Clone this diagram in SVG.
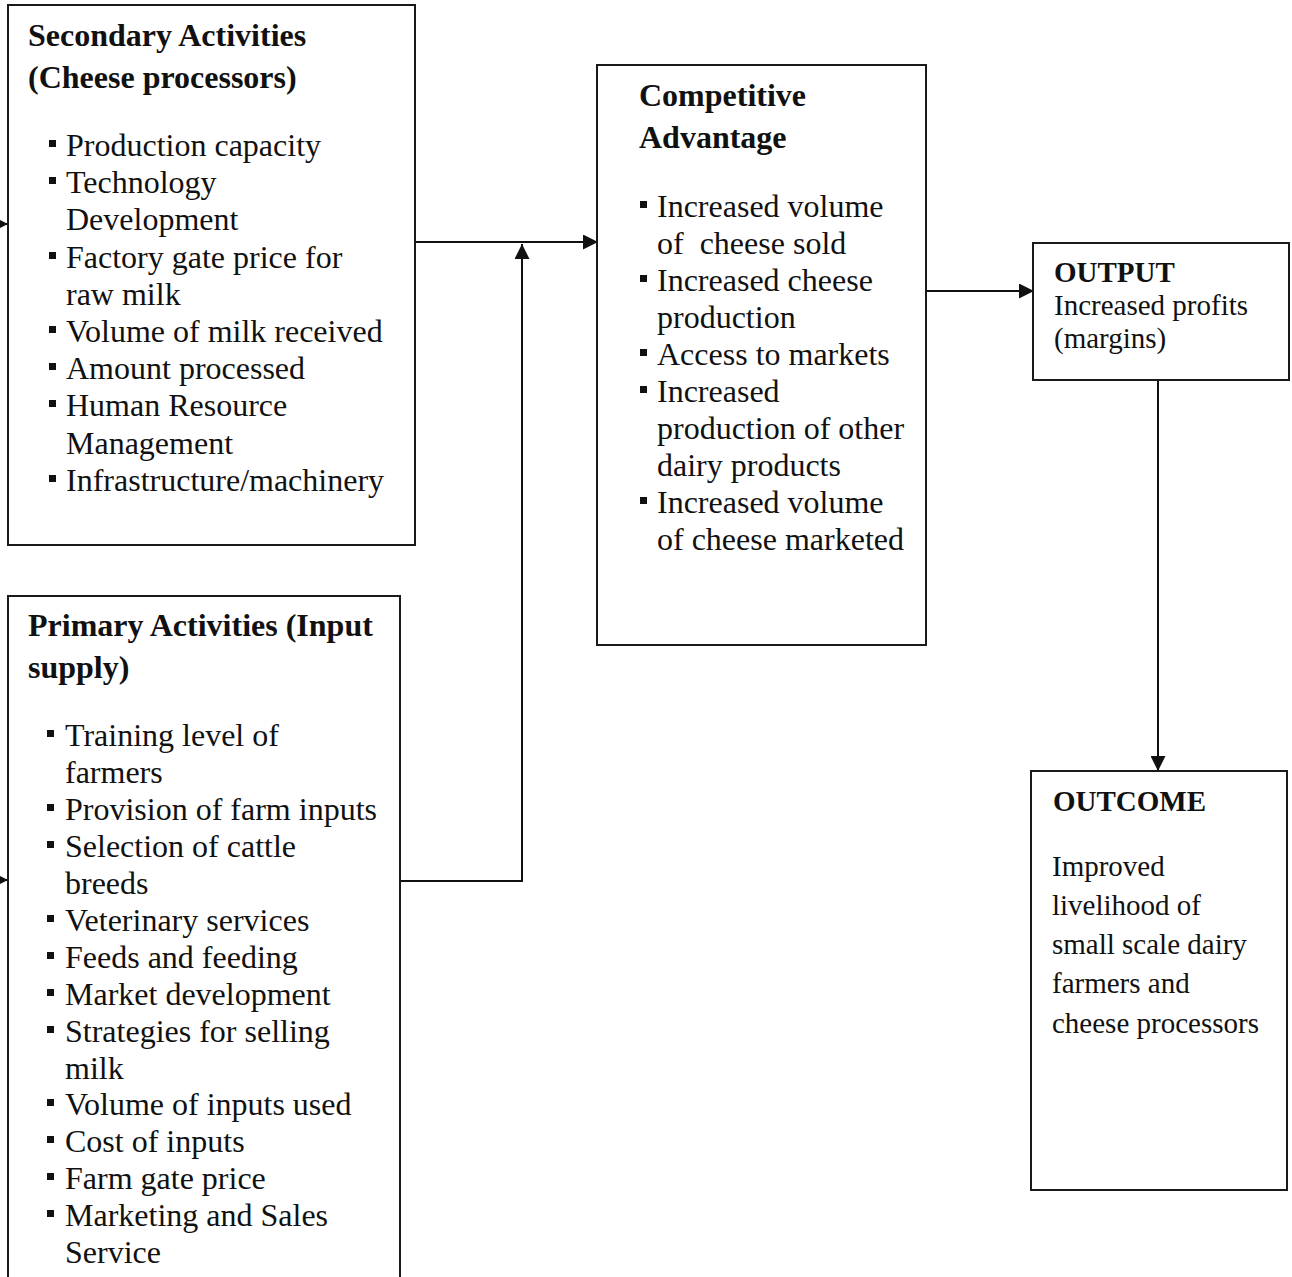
<svg xmlns="http://www.w3.org/2000/svg" width="1292" height="1277" viewBox="0 0 1292 1277">
<defs>
<style>
.box{fill:#fff;stroke:#1a1a1a;stroke-width:2}
.ln{fill:none;stroke:#111;stroke-width:2}
.t{font-family:"Liberation Serif","Times New Roman",serif;font-size:32px;fill:#111}
.h{font-family:"Liberation Serif","Times New Roman",serif;font-size:32px;font-weight:bold;fill:#111}
.s{font-family:"Liberation Serif","Times New Roman",serif;font-size:29px;fill:#111}
.sh{font-family:"Liberation Serif","Times New Roman",serif;font-size:29px;font-weight:bold;fill:#111}
.b{fill:#111}
</style>
<marker id="ahb" viewBox="0 0 10 10" refX="10" refY="5" markerWidth="15" markerHeight="15" markerUnits="userSpaceOnUse" orient="auto">
<path d="M0,0 L10,5 L0,10 Z" fill="#111"/>
</marker>
</defs>
<rect width="1292" height="1277" fill="#fff"/>

<g id="connectors">
<line class="ln" x1="-20" y1="224" x2="8" y2="224" marker-end="url(#ahb)"/>
<line class="ln" x1="-20" y1="880" x2="8" y2="880" marker-end="url(#ahb)"/>
<line class="ln" x1="415" y1="242" x2="598" y2="242" marker-end="url(#ahb)"/>
<polyline class="ln" points="400,881 522,881 522,244" marker-end="url(#ahb)"/>
<line class="ln" x1="926" y1="291" x2="1034" y2="291" marker-end="url(#ahb)"/>
<line class="ln" x1="1158" y1="380" x2="1158" y2="771" marker-end="url(#ahb)"/>
</g>

<g id="secondary">
<rect class="box" x="8" y="5" width="407" height="540"/>
<text class="h" x="28" y="46">Secondary Activities</text>
<text class="h" x="28" y="88">(Cheese processors)</text>
<rect class="b" x="49" y="140" width="7" height="7"/>
<text class="t" x="66" y="156">Production capacity</text>
<rect class="b" x="49" y="177" width="7" height="7"/>
<text class="t" x="66" y="193">Technology</text>
<text class="t" x="66" y="230">Development</text>
<rect class="b" x="49" y="252" width="7" height="7"/>
<text class="t" x="66" y="268">Factory gate price for</text>
<text class="t" x="66" y="305">raw milk</text>
<rect class="b" x="49" y="326" width="7" height="7"/>
<text class="t" x="66" y="342">Volume of milk received</text>
<rect class="b" x="49" y="363" width="7" height="7"/>
<text class="t" x="66" y="379">Amount processed</text>
<rect class="b" x="49" y="400" width="7" height="7"/>
<text class="t" x="66" y="416">Human Resource</text>
<text class="t" x="66" y="454">Management</text>
<rect class="b" x="49" y="475" width="7" height="7"/>
<text class="t" x="66" y="491">Infrastructure/machinery</text>
</g>

<g id="primary">
<rect class="box" x="8" y="596" width="392" height="700"/>
<text class="h" x="28" y="636">Primary Activities (Input</text>
<text class="h" x="28" y="678">supply)</text>
<rect class="b" x="47" y="730" width="7" height="7"/>
<text class="t" x="65" y="746">Training level of</text>
<text class="t" x="65" y="783">farmers</text>
<rect class="b" x="47" y="804" width="7" height="7"/>
<text class="t" x="65" y="820">Provision of farm inputs</text>
<rect class="b" x="47" y="841" width="7" height="7"/>
<text class="t" x="65" y="857">Selection of cattle</text>
<text class="t" x="65" y="894">breeds</text>
<rect class="b" x="47" y="915" width="7" height="7"/>
<text class="t" x="65" y="931">Veterinary services</text>
<rect class="b" x="47" y="952" width="7" height="7"/>
<text class="t" x="65" y="968">Feeds and feeding</text>
<rect class="b" x="47" y="989" width="7" height="7"/>
<text class="t" x="65" y="1005">Market development</text>
<rect class="b" x="47" y="1026" width="7" height="7"/>
<text class="t" x="65" y="1042">Strategies for selling</text>
<text class="t" x="65" y="1079">milk</text>
<rect class="b" x="47" y="1099" width="7" height="7"/>
<text class="t" x="65" y="1115">Volume of inputs used</text>
<rect class="b" x="47" y="1136" width="7" height="7"/>
<text class="t" x="65" y="1152">Cost of inputs</text>
<rect class="b" x="47" y="1173" width="7" height="7"/>
<text class="t" x="65" y="1189">Farm gate price</text>
<rect class="b" x="47" y="1210" width="7" height="7"/>
<text class="t" x="65" y="1226">Marketing and Sales</text>
<text class="t" x="65" y="1263">Service</text>
</g>

<g id="competitive">
<rect class="box" x="597" y="65" width="329" height="580"/>
<text class="h" x="639" y="106">Competitive</text>
<text class="h" x="639" y="148">Advantage</text>
<rect class="b" x="640" y="201" width="7" height="7"/>
<text class="t" x="657" y="217">Increased volume</text>
<text class="t" x="657" y="254" xml:space="preserve">of  cheese sold</text>
<rect class="b" x="640" y="275" width="7" height="7"/>
<text class="t" x="657" y="291">Increased cheese</text>
<text class="t" x="657" y="328">production</text>
<rect class="b" x="640" y="349" width="7" height="7"/>
<text class="t" x="657" y="365">Access to markets</text>
<rect class="b" x="640" y="386" width="7" height="7"/>
<text class="t" x="657" y="402">Increased</text>
<text class="t" x="657" y="439">production of other</text>
<text class="t" x="657" y="476">dairy products</text>
<rect class="b" x="640" y="497" width="7" height="7"/>
<text class="t" x="657" y="513">Increased volume</text>
<text class="t" x="657" y="550">of cheese marketed</text>
</g>

<g id="output">
<rect class="box" x="1033" y="243" width="256" height="137"/>
<text class="sh" x="1054" y="282">OUTPUT</text>
<text class="s" x="1054" y="315">Increased profits</text>
<text class="s" x="1054" y="348">(margins)</text>
</g>

<g id="outcome">
<rect class="box" x="1031" y="771" width="256" height="419"/>
<text class="sh" x="1053" y="811">OUTCOME</text>
<text class="s" x="1052" y="876">Improved</text>
<text class="s" x="1052" y="915">livelihood of</text>
<text class="s" x="1052" y="954">small scale dairy</text>
<text class="s" x="1052" y="993">farmers and</text>
<text class="s" x="1052" y="1033">cheese processors</text>
</g>
</svg>
